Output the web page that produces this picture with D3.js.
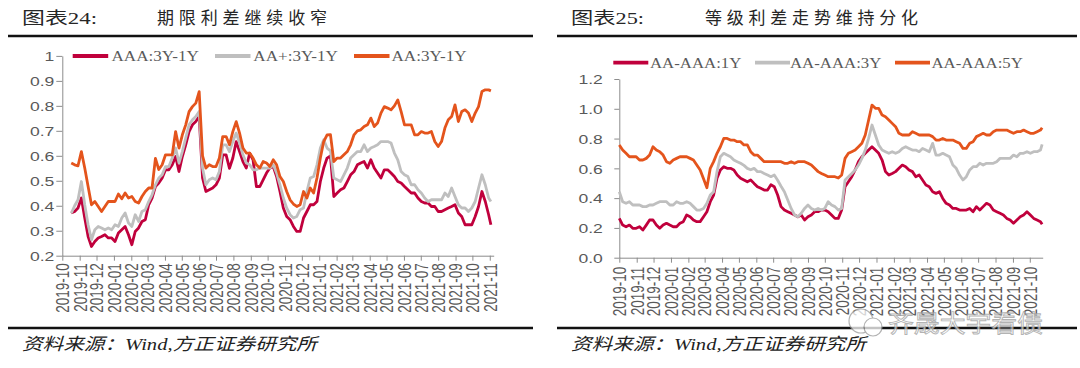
<!DOCTYPE html>
<html><head><meta charset="utf-8">
<script src="https://cdn.jsdelivr.net/npm/d3@7"></script>
<style>body{margin:0;background:#fff}svg{display:block}</style>
</head><body>
<svg id="c" width="1080" height="368"></svg>
<script>
// ---------------- DATA : left chart (期限利差) ----------------
const leftDates = ["2019-10-17","2019-10-23","2019-10-29","2019-11-04","2019-11-10","2019-11-16","2019-11-22","2019-11-28","2019-12-04","2019-12-10","2019-12-16","2019-12-22","2019-12-28","2020-01-03","2020-01-09","2020-01-15","2020-01-21","2020-01-27","2020-02-02","2020-02-08","2020-02-14","2020-02-20","2020-02-26","2020-03-03","2020-03-09","2020-03-15","2020-03-21","2020-03-27","2020-04-02","2020-04-08","2020-04-14","2020-04-20","2020-04-26","2020-05-02","2020-05-08","2020-05-14","2020-05-20","2020-05-26","2020-06-01","2020-06-07","2020-06-13","2020-06-19","2020-06-25","2020-07-01","2020-07-07","2020-07-13","2020-07-19","2020-07-25","2020-07-31","2020-08-06","2020-08-12","2020-08-18","2020-08-24","2020-08-30","2020-09-05","2020-09-11","2020-09-17","2020-09-23","2020-09-29","2020-10-05","2020-10-11","2020-10-17","2020-10-23","2020-10-29","2020-11-04","2020-11-10","2020-11-16","2020-11-22","2020-11-28","2020-12-04","2020-12-10","2020-12-16","2020-12-22","2020-12-28","2021-01-03","2021-01-09","2021-01-15","2021-01-21","2021-01-27","2021-02-02","2021-02-08","2021-02-14","2021-02-20","2021-02-26","2021-03-04","2021-03-10","2021-03-16","2021-03-22","2021-03-28","2021-04-03","2021-04-09","2021-04-15","2021-04-21","2021-04-27","2021-05-03","2021-05-09","2021-05-15","2021-05-21","2021-05-27","2021-06-02","2021-06-08","2021-06-14","2021-06-20","2021-06-26","2021-07-02","2021-07-08","2021-07-14","2021-07-20","2021-07-26","2021-08-01","2021-08-07","2021-08-13","2021-08-19","2021-08-25","2021-08-31","2021-09-06","2021-09-12","2021-09-18","2021-09-24","2021-09-30","2021-10-06","2021-10-12","2021-10-18","2021-10-24","2021-10-30","2021-11-03"];
const leftAAA = [0.371,0.377,0.391,0.431,0.351,0.277,0.237,0.257,0.271,0.277,
0.284,0.271,0.271,0.257,0.291,0.304,0.317,0.284,0.244,0.297,
0.311,0.337,0.344,0.404,0.431,0.477,0.491,0.511,0.544,0.544,
0.564,0.597,0.537,0.597,0.644,0.697,0.724,0.737,0.757,0.511,
0.457,0.464,0.471,0.484,0.511,0.604,0.604,0.55,0.591,0.657,
0.617,0.577,0.551,0.611,0.584,0.477,0.477,0.504,0.531,0.551,
0.557,0.517,0.457,0.391,0.357,0.344,0.317,0.297,0.297,0.351,
0.377,0.404,0.404,0.417,0.497,0.551,0.591,0.60,0.437,0.451,
0.464,0.471,0.497,0.524,0.537,0.564,0.571,0.577,0.551,0.584,
0.551,0.531,0.511,0.544,0.544,0.531,0.517,0.497,0.491,0.477,
0.464,0.451,0.451,0.431,0.417,0.411,0.411,0.397,0.397,0.377,
0.377,0.384,0.391,0.397,0.404,0.371,0.357,0.324,0.324,0.324,
0.357,0.397,0.457,0.417,0.364,0.324];
const leftAAplus = [0.37,0.40,0.424,0.497,0.404,0.324,0.264,0.304,0.317,0.311,
0.304,0.311,0.304,0.324,0.317,0.351,0.371,0.331,0.317,0.364,
0.337,0.377,0.384,0.417,0.444,0.484,0.511,0.524,0.557,0.557,
0.591,0.631,0.571,0.617,0.671,0.724,0.744,0.757,0.777,0.551,
0.484,0.504,0.511,0.504,0.537,0.644,0.644,0.617,0.657,0.691,
0.651,0.604,0.571,0.564,0.544,0.544,0.551,0.551,0.551,0.551,
0.564,0.531,0.484,0.431,0.391,0.364,0.351,0.357,0.384,0.391,
0.457,0.511,0.517,0.564,0.631,0.664,0.631,0.62,0.511,0.504,
0.497,0.524,0.551,0.591,0.604,0.617,0.617,0.644,0.617,0.631,
0.637,0.644,0.657,0.657,0.657,0.651,0.611,0.584,0.537,0.524,
0.517,0.484,0.484,0.464,0.451,0.431,0.417,0.424,0.424,0.424,
0.424,0.451,0.437,0.471,0.437,0.404,0.391,0.391,0.377,0.391,
0.417,0.471,0.524,0.484,0.431,0.417];
const leftAA = [0.571,0.564,0.56,0.617,0.551,0.477,0.404,0.417,0.397,0.377,
0.397,0.417,0.417,0.417,0.447,0.428,0.451,0.431,0.437,0.417,
0.411,0.437,0.457,0.471,0.471,0.59,0.545,0.564,0.604,0.604,
0.604,0.697,0.631,0.684,0.724,0.777,0.797,0.811,0.857,0.60,
0.551,0.564,0.557,0.557,0.591,0.677,0.677,0.644,0.697,0.737,
0.691,0.631,0.611,0.611,0.591,0.564,0.551,0.577,0.571,0.557,
0.584,0.564,0.517,0.497,0.457,0.424,0.407,0.397,0.404,0.457,
0.431,0.471,0.451,0.511,0.591,0.657,0.684,0.685,0.577,0.591,
0.591,0.604,0.617,0.644,0.684,0.70,0.704,0.717,0.724,0.751,
0.717,0.731,0.771,0.797,0.791,0.784,0.80,0.824,0.777,0.724,
0.724,0.724,0.684,0.684,0.697,0.691,0.691,0.697,0.657,0.637,
0.657,0.711,0.744,0.757,0.804,0.737,0.777,0.784,0.771,0.737,
0.771,0.797,0.857,0.864,0.864,0.86];
const leftNames = ["AAA:3Y-1Y","AA+:3Y-1Y","AA:3Y-1Y"];
const leftYTicks = [0.2,0.3,0.4,0.5,0.6,0.7,0.8,0.9,1];
const leftYLabels = ["0.2","0.3","0.4","0.5","0.6","0.7","0.8","0.9","1"];
const leftXLabels = ["2019-10","2019-11","2019-12","2020-01","2020-02","2020-03","2020-04","2020-05","2020-06","2020-07","2020-08","2020-09","2020-10","2020-11","2020-12","2021-01","2021-02","2021-03","2021-04","2021-05","2021-06","2021-07","2021-08","2021-09","2021-10","2021-11"];

// ---------------- DATA : right chart (等级利差) ----------------
const rightDates = ["2019-10-01","2019-10-07","2019-10-13","2019-10-19","2019-10-25","2019-10-31","2019-11-06","2019-11-12","2019-11-18","2019-11-24","2019-11-30","2019-12-06","2019-12-12","2019-12-18","2019-12-24","2019-12-30","2020-01-05","2020-01-11","2020-01-17","2020-01-23","2020-01-29","2020-02-04","2020-02-10","2020-02-16","2020-02-22","2020-02-28","2020-03-05","2020-03-11","2020-03-17","2020-03-23","2020-03-29","2020-04-04","2020-04-10","2020-04-16","2020-04-22","2020-04-28","2020-05-04","2020-05-10","2020-05-16","2020-05-22","2020-05-28","2020-06-03","2020-06-09","2020-06-15","2020-06-21","2020-06-27","2020-07-03","2020-07-09","2020-07-15","2020-07-21","2020-07-27","2020-08-02","2020-08-08","2020-08-14","2020-08-20","2020-08-26","2020-09-01","2020-09-07","2020-09-13","2020-09-19","2020-09-25","2020-10-01","2020-10-07","2020-10-13","2020-10-19","2020-10-25","2020-10-31","2020-11-06","2020-11-12","2020-11-18","2020-11-24","2020-11-30","2020-12-06","2020-12-12","2020-12-18","2020-12-24","2020-12-30","2021-01-05","2021-01-11","2021-01-17","2021-01-23","2021-01-29","2021-02-04","2021-02-10","2021-02-16","2021-02-22","2021-02-28","2021-03-06","2021-03-12","2021-03-18","2021-03-24","2021-03-30","2021-04-05","2021-04-11","2021-04-17","2021-04-23","2021-04-29","2021-05-05","2021-05-11","2021-05-17","2021-05-23","2021-05-29","2021-06-04","2021-06-10","2021-06-16","2021-06-22","2021-06-28","2021-07-04","2021-07-10","2021-07-16","2021-07-22","2021-07-28","2021-08-03","2021-08-09","2021-08-15","2021-08-21","2021-08-27","2021-09-02","2021-09-08","2021-09-14","2021-09-20","2021-09-26","2021-10-02","2021-10-08","2021-10-14","2021-10-20","2021-10-23"];
const right1Y = [0.264,0.219,0.208,0.219,0.197,0.197,0.208,0.186,0.219,0.253,
0.253,0.219,0.197,0.219,0.231,0.219,0.208,0.208,0.231,0.242,
0.287,0.275,0.253,0.242,0.242,0.275,0.309,0.376,0.421,0.533,
0.589,0.611,0.60,0.60,0.589,0.555,0.533,0.522,0.51,0.522,
0.499,0.477,0.466,0.454,0.454,0.49,0.477,0.421,0.343,0.32,
0.309,0.298,0.287,0.275,0.287,0.253,0.275,0.287,0.309,0.309,
0.32,0.32,0.309,0.287,0.264,0.264,0.32,0.477,0.51,0.544,
0.589,0.645,0.678,0.701,0.723,0.745,0.723,0.701,0.656,0.578,
0.555,0.566,0.578,0.60,0.622,0.611,0.589,0.578,0.544,0.555,
0.522,0.488,0.477,0.443,0.432,0.443,0.398,0.365,0.354,0.331,
0.331,0.32,0.32,0.32,0.331,0.309,0.343,0.32,0.343,0.365,
0.354,0.32,0.309,0.298,0.287,0.264,0.253,0.231,0.253,0.275,
0.287,0.309,0.287,0.264,0.253,0.242,0.224];
const right3Y = [0.443,0.376,0.365,0.376,0.354,0.354,0.354,0.343,0.343,0.354,
0.354,0.365,0.376,0.376,0.376,0.354,0.354,0.376,0.365,0.365,
0.376,0.365,0.343,0.32,0.32,0.331,0.365,0.421,0.443,0.578,
0.678,0.701,0.689,0.678,0.656,0.645,0.634,0.62,0.60,0.59,
0.60,0.578,0.578,0.566,0.555,0.544,0.555,0.52,0.48,0.443,
0.387,0.331,0.287,0.275,0.298,0.331,0.354,0.331,0.32,0.331,
0.32,0.331,0.376,0.354,0.343,0.32,0.331,0.522,0.544,0.566,
0.589,0.622,0.667,0.723,0.801,0.891,0.824,0.757,0.723,0.712,
0.701,0.712,0.701,0.712,0.734,0.745,0.734,0.723,0.723,0.712,
0.734,0.723,0.712,0.768,0.689,0.689,0.701,0.689,0.678,0.622,
0.60,0.555,0.522,0.544,0.589,0.611,0.611,0.634,0.622,0.634,
0.634,0.634,0.645,0.667,0.667,0.667,0.667,0.689,0.678,0.701,
0.701,0.712,0.701,0.712,0.712,0.723,0.761];
const right5Y = [0.757,0.723,0.701,0.678,0.678,0.678,0.656,0.656,0.667,0.689,
0.745,0.723,0.712,0.689,0.645,0.634,0.656,0.667,0.678,0.678,
0.678,0.667,0.656,0.622,0.589,0.53,0.47,0.60,0.645,0.701,
0.745,0.801,0.801,0.79,0.79,0.779,0.779,0.757,0.757,0.712,
0.689,0.689,0.667,0.645,0.645,0.645,0.645,0.645,0.645,0.634,
0.634,0.645,0.634,0.645,0.645,0.645,0.634,0.622,0.60,0.578,
0.566,0.555,0.544,0.544,0.544,0.535,0.555,0.667,0.701,0.712,
0.723,0.745,0.768,0.824,0.925,1.025,1.003,1.003,0.958,0.947,
0.925,0.902,0.88,0.835,0.824,0.824,0.824,0.846,0.835,0.824,
0.824,0.824,0.824,0.813,0.79,0.79,0.801,0.79,0.79,0.79,
0.779,0.768,0.734,0.734,0.768,0.779,0.813,0.824,0.835,0.824,
0.824,0.846,0.857,0.857,0.857,0.857,0.846,0.835,0.846,0.846,
0.857,0.846,0.835,0.835,0.846,0.857,0.873];
const rightNames = ["AA-AAA:1Y","AA-AAA:3Y","AA-AAA:5Y"];
const rightYTicks = [0,0.2,0.4,0.6,0.8,1.0,1.2];
const rightYLabels = ["0.0","0.2","0.4","0.6","0.8","1.0","1.2"];
const rightXLabels = ["2019-10","2019-11","2019-12","2020-01","2020-02","2020-03","2020-04","2020-05","2020-06","2020-07","2020-08","2020-09","2020-10","2020-11","2020-12","2021-01","2021-02","2021-03","2021-04","2021-05","2021-06","2021-07","2021-08","2021-09","2021-10"];

// ---------------- RENDER ----------------
const svg = d3.select("#c");
const parse = d3.timeParse("%Y-%m-%d");
const parseM = d3.timeParse("%Y-%m");
const COLORS = ["#C0003C","#BFBFBF","#E4541C"];
const AXIS = "#8C8C8C", TXT = "#595959";
const SANS = "'Liberation Sans', Arial, sans-serif";
const SERIF = "'Liberation Serif','Times New Roman',serif";
const CJK = "'Liberation Serif','Noto Sans CJK SC',serif";

function drawChart(cfg) {
  const dates = cfg.dates.map(parse);
  const x = d3.scaleTime().domain([parse(cfg.xStart), parse(cfg.xEnd)]).range(cfg.xRange);
  const y = d3.scaleLinear().domain(cfg.yDomain).range(cfg.yRange);
  const g = svg.append("g");

  // y axis
  const ya = g.append("g").attr("transform", `translate(${cfg.xRange[0]},0)`)
    .call(d3.axisLeft(y).tickValues(cfg.yTicks)
      .tickFormat(d => cfg.yLabels[cfg.yTicks.indexOf(d)]).tickSize(cfg.yTickSize).tickSizeOuter(0));
  ya.select(".domain").attr("stroke", AXIS);
  ya.selectAll(".tick line").attr("stroke", AXIS);
  ya.selectAll(".tick text").attr("x", 0).attr("dy", "0.36em")
    .attr("transform", `translate(${cfg.yLabelDx},0) scale(${cfg.sTick},1)`)
    .attr("fill", TXT).style("font-family", SANS).style("font-size", cfg.tickFont + "px");

  // x axis
  const xa = g.append("g").attr("transform", `translate(0,${cfg.yRange[0]})`)
    .call(d3.axisBottom(x).tickValues(cfg.xLabels.map(parseM))
      .tickFormat(d => d3.timeFormat("%Y-%m")(d)).tickSize(5).tickSizeOuter(0));
  xa.select(".domain").attr("stroke", AXIS);
  xa.selectAll(".tick line").attr("stroke", AXIS);
  xa.selectAll(".tick text").attr("x", 0).attr("y", 0).attr("dy", "0.36em")
    .attr("text-anchor", "end")
    .attr("transform", `scale(${cfg.sTick},1) rotate(-90) translate(${-cfg.xLabelGap},0)`)
    .attr("fill", TXT).style("font-family", SANS).style("font-size", cfg.tickFont + "px");

  // series lines
  const line = d3.line().x((d, i) => x(dates[i])).y(d => y(d));
  cfg.series.forEach((s, i) => {
    g.append("path").datum(s).attr("d", line).attr("fill", "none")
      .attr("stroke", COLORS[i]).attr("stroke-width", 2.8).attr("stroke-linejoin", "round");
  });

  // legend
  cfg.names.forEach((n, i) => {
    const it = cfg.legend[i];
    g.append("line").attr("x1", it[0]).attr("x2", it[0] + cfg.legendLen)
      .attr("y1", cfg.legendY).attr("y2", cfg.legendY)
      .attr("stroke", COLORS[i]).attr("stroke-width", 3.8);
    g.append("text").text(n)
      .attr("transform", `translate(${it[1]},${cfg.legendY}) scale(${cfg.sLegend},1)`)
      .attr("dy", "0.35em").attr("fill", TXT)
      .style("font-family", SERIF).style("font-size", "15px");
  });

  // frame: titles, rules, source
  g.append("text").text(cfg.fig).attr("x", cfg.frame[0] + 14).attr("y", 24)
    .attr("textLength", cfg.figLen).attr("lengthAdjust", "spacingAndGlyphs")
    .attr("fill", "#262626").style("font-family", CJK).style("font-size", "17px");
  g.append("text").text(cfg.title).attr("x", cfg.titleX).attr("y", 24)
    .attr("textLength", cfg.titleLen).attr("lengthAdjust", "spacing")
    .attr("fill", "#262626").style("font-family", CJK).style("font-size", "17px");
  [36, 328].forEach(yy => g.append("line").attr("x1", cfg.frame[0]).attr("x2", cfg.frame[1])
    .attr("y1", yy).attr("y2", yy).attr("stroke", "#111").attr("stroke-width", 2.6));
  g.append("text").text("资料来源：Wind,方正证券研究所").attr("x", cfg.frame[0] + 14).attr("y", 350)
    .attr("textLength", 295).attr("lengthAdjust", "spacingAndGlyphs")
    .attr("fill", "#222").style("font-family", CJK).style("font-style", "italic").style("font-size", "17px");
}

drawChart({
  dates: leftDates, series: [leftAAA, leftAAplus, leftAA], names: leftNames,
  xStart: "2019-10-01", xEnd: "2021-11-08", xRange: [62.3, 493.7],
  yDomain: [0.2, 1], yRange: [255.7, 55.9], yTicks: leftYTicks, yLabels: leftYLabels,
  xLabels: leftXLabels, yTickSize: 6, yLabelDx: -8, xLabelGap: 7.5, tickFont: 13.5, sTick: 1.3,
  legend: [[72.7, 111.5], [215, 253.3], [354, 391.5]], legendLen: 35.5, legendY: 56, sLegend: 1.14,
  frame: [8, 533], fig: "图表24:", figLen: 75, title: "期限利差继续收窄", titleX: 157, titleLen: 170
});
drawChart({
  dates: rightDates, series: [right1Y, right3Y, right5Y], names: rightNames,
  xStart: "2019-10-01", xEnd: "2021-10-24", xRange: [619.3, 1042.7],
  yDomain: [0, 1.2], yRange: [257.7, 79], yTicks: rightYTicks, yLabels: rightYLabels,
  xLabels: rightXLabels, yTickSize: 5, yLabelDx: -16.5, xLabelGap: 9, tickFont: 13.5, sTick: 1.3,
  legend: [[613.3, 650], [755, 790], [895, 931.5]], legendLen: 35, legendY: 62.7, sLegend: 1.12,
  frame: [557, 1077], fig: "图表25:", figLen: 73, title: "等级利差走势维持分化", titleX: 705, titleLen: 213
});

// faint WeChat-style watermark, bottom right
const wm = svg.append("g").attr("opacity", 0.75);
wm.append("circle").attr("cx", 861).attr("cy", 321).attr("r", 12)
  .attr("fill", "#fff").attr("stroke", "#9a9a9a").attr("stroke-width", 1.2);
wm.append("circle").attr("cx", 873).attr("cy", 327).attr("r", 9)
  .attr("fill", "#fff").attr("stroke", "#9a9a9a").attr("stroke-width", 1.2);
wm.append("text").text("齐晟大宇看债").attr("x", 888).attr("y", 332)
  .attr("textLength", 155).attr("lengthAdjust", "spacingAndGlyphs")
  .attr("fill", "#fff").attr("stroke", "#9a9a9a").attr("stroke-width", 0.9)
  .style("font-family", "'Noto Sans CJK SC',sans-serif").style("font-size", "24px");
</script>
</body></html>
